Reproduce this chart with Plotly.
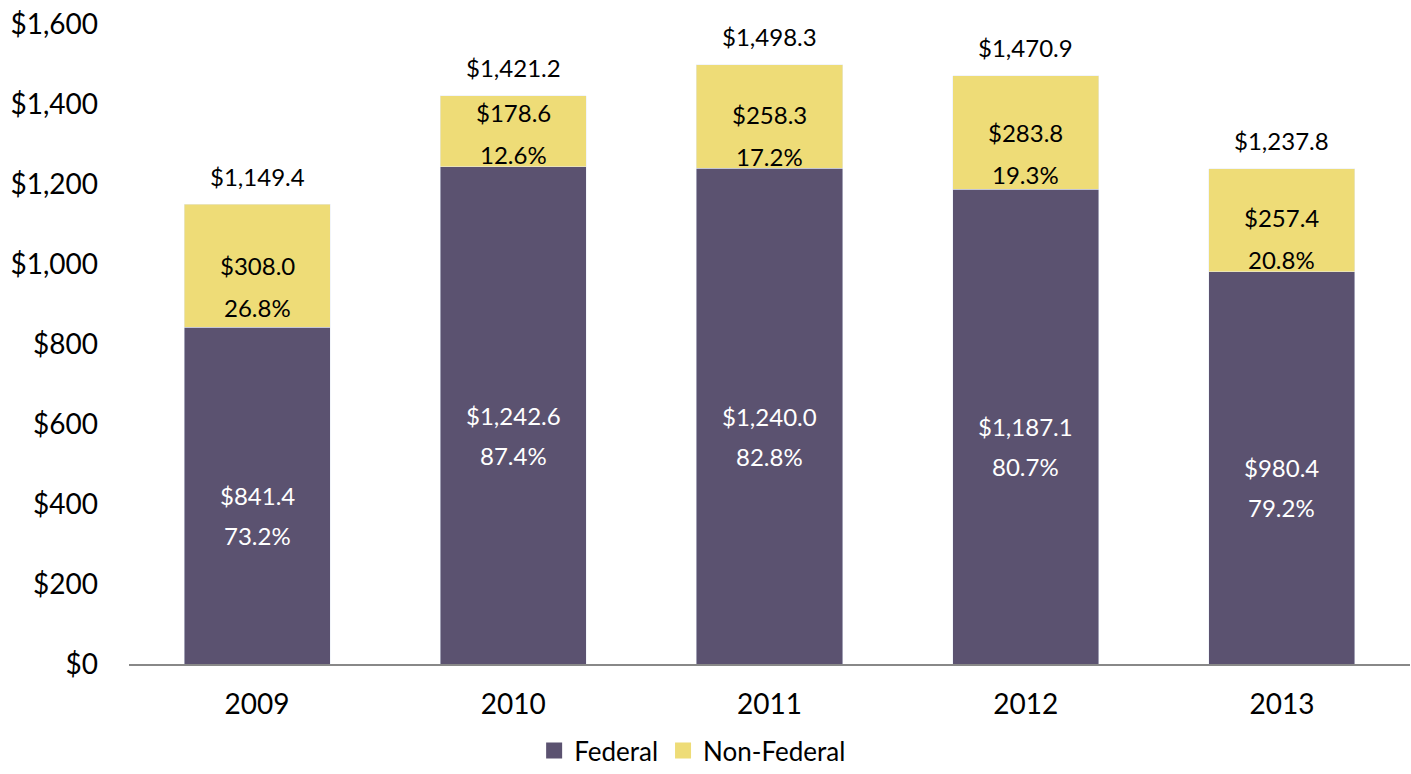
import plotly.graph_objects as go

years = ["2009", "2010", "2011", "2012", "2013"]
federal = [841.4, 1242.6, 1240.0, 1187.1, 980.4]
non_federal = [308.0, 178.6, 258.3, 283.8, 257.4]
federal_pct = ["73.2%", "87.4%", "82.8%", "80.7%", "79.2%"]
non_federal_pct = ["26.8%", "12.6%", "17.2%", "19.3%", "20.8%"]
totals = [1149.4, 1421.2, 1498.3, 1470.9, 1237.8]
y_ticks = [0, 200, 400, 600, 800, 1000, 1200, 1400, 1600]

PURPLE = "#5B5270"
YELLOW = "#EEDC77"
FONT = "Lato"

fig = go.Figure()
fig.add_trace(go.Bar(x=years, y=federal, name="Federal", marker_color=PURPLE,
                     hoverinfo="skip", showlegend=False, legendgroup="f"))
fig.add_trace(go.Bar(x=years, y=non_federal, name="Non-Federal", marker_color=YELLOW,
                     hoverinfo="skip", showlegend=False, legendgroup="n"))
# legend entries with larger square swatches
fig.add_trace(go.Scatter(x=[None], y=[None], mode="markers", name="Federal",
                         legendgroup="f",
                         marker=dict(symbol="square", size=16, color=PURPLE)))
fig.add_trace(go.Scatter(x=[None], y=[None], mode="markers", name="Non-Federal",
                         legendgroup="n",
                         marker=dict(symbol="square", size=16, color=YELLOW)))

LINE = 105  # data units between label lines
anns = []
for i, yr in enumerate(years):
    f = federal[i]
    nf = non_federal[i]
    l1 = f / 2
    anns.append(dict(x=i, y=l1, text=f"${f:,.1f}", showarrow=False,
                     font=dict(color="white", size=24, family=FONT)))
    anns.append(dict(x=i, y=l1 - 100, text=federal_pct[i], showarrow=False,
                     font=dict(color="white", size=24, family=FONT)))
    m1 = f + nf / 2
    m2 = m1 - LINE
    if m2 < f + 30:
        shift = f + 30 - m2
        m1 += shift
        m2 += shift
    anns.append(dict(x=i, y=m1, text=f"${nf:,.1f}", showarrow=False,
                     font=dict(color="black", size=24, family=FONT)))
    anns.append(dict(x=i, y=m2, text=non_federal_pct[i], showarrow=False,
                     font=dict(color="black", size=24, family=FONT)))
    anns.append(dict(x=i, y=totals[i], text=f"${totals[i]:,.1f}", showarrow=False,
                     yshift=28, font=dict(color="black", size=24, family=FONT)))

fig.update_layout(
    barmode="stack",
    bargap=0.43,
    width=1411, height=774,
    margin=dict(l=129, r=1, t=24, b=110, autoexpand=False),
    paper_bgcolor="white", plot_bgcolor="white",
    font=dict(family=FONT, color="black"),
    annotations=anns,
    showlegend=True,
    legend=dict(orientation="h", x=0.44, xanchor="center",
                yref="container", y=0.0, yanchor="bottom",
                itemsizing="trace", itemwidth=30,
                font=dict(size=26, family=FONT), traceorder="normal"),
    xaxis=dict(type="category", range=[-0.5, len(years) - 0.5],
               showline=True, linecolor="#888888", linewidth=2,
               ticks="", tickfont=dict(size=28, family=FONT), ticklabelstandoff=14),
    yaxis=dict(range=[0, 1600], tickvals=y_ticks,
               ticktext=[f"${v:,}" for v in y_ticks], showgrid=False,
               zeroline=False, showline=False, ticks="",
               tickfont=dict(size=28, family=FONT), ticklabelstandoff=30),
)

fig.write_html("out.html", config={"displayModeBar": False})

with open("out.html", "r", encoding="utf-8") as fh:
    html = fh.read()
html = html.replace("<head>", "<head><style>html,body{margin:0;padding:0;}</style>", 1)
with open("out.html", "w", encoding="utf-8") as fh:
    fh.write(html)
